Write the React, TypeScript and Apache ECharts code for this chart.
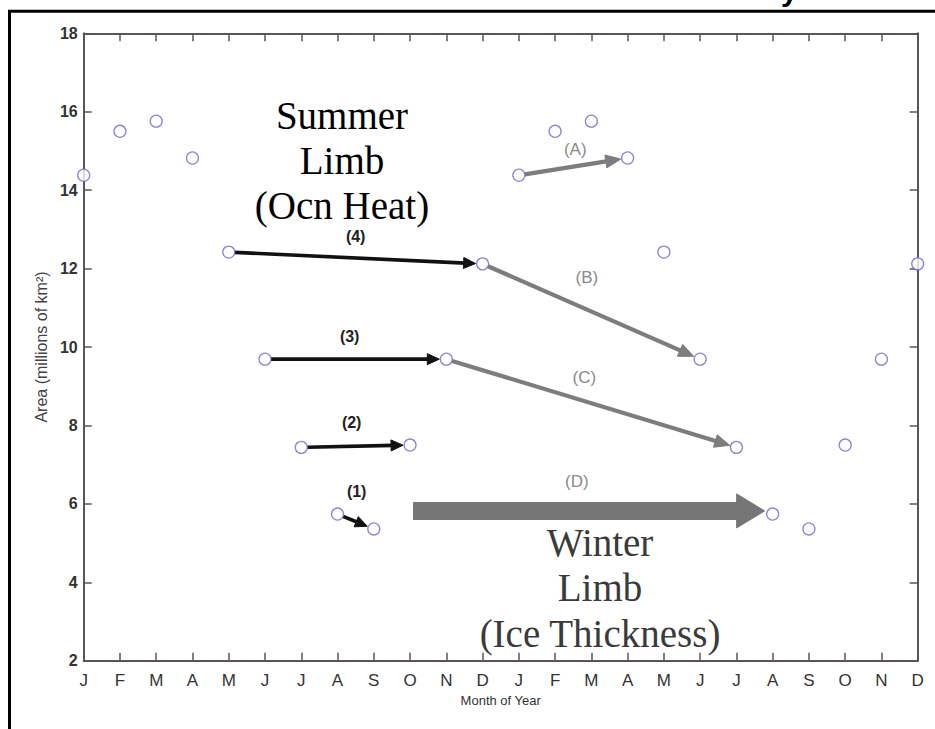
import React, { useEffect, useRef } from "react";
import * as echarts from "echarts";

// ---- data ----
const months = ["J","F","M","A","M","J","J","A","S","O","N","D","J","F","M","A","M","J","J","A","S","O","N","D"];
const iceArea = [14.38,15.5,15.76,14.82,12.42,9.69,7.44,5.74,5.36,7.5,9.69,12.12,14.38,15.5,15.76,14.82,12.42,9.69,7.44,5.74,5.36,7.5,9.69,12.12];
const yMin = 2;
const yMax = 18;
const yStep = 2;

// arrows: start month index -> end month index
const arrowLabels = ["(1)","(2)","(3)","(4)","(A)","(B)","(C)","(D)"];
const arrowStart = [7, 6, 5, 4, 12, 11, 10, 9];
const arrowEnd = [8, 9, 10, 11, 15, 17, 18, 19];
const arrowKind = ["summer","summer","summer","summer","winter","winter","winter","winterLimb"];
const winterLimbLevel = 5.82; // level of the broad (D) arrow

const summerLines = ["Summer", "Limb", "(Ocn Heat)"];
const winterLines = ["Winter", "Limb", "(Ice Thickness)"];

// ---- styles / layout (not data) ----
const kindStyle: Record<string, any> = {
  summer: { color: "#111111", width: 3.6, headLen: 12, headHalf: 5.5, trimStart: 6, trimEnd: 7, labelColor: "#222", labelWeight: "bold", labelSize: 16 },
  winter: { color: "#7d7d7d", width: 4.2, headLen: 15, headHalf: 6.5, trimStart: 6, trimEnd: 7, labelColor: "#8a8a8a", labelWeight: "normal", labelSize: 17 },
  winterLimb: { color: "#767676", width: 18, headLen: 28, headHalf: 17, trimStart: 3, trimEnd: 8, labelColor: "#8a8a8a", labelWeight: "normal", labelSize: 17 },
};
const labelOffset: Record<string, [number, number]> = {
  "(1)": [1, -29.5],
  "(2)": [-4, -24],
  "(3)": [-6, -23],
  "(4)": [0, -21],
  "(A)": [2, -17],
  "(B)": [-4.5, -34.5],
  "(C)": [-7, -25.5],
  "(D)": [-14.5, -29],
};
const summerLayout = { x: 342, y0: 115.5, step: 45 };
const winterLayout = { x: 600, y0: 542, step: 45.5 };

const axisColor = "#5b5556";
const sans = "Liberation Sans, Arial, sans-serif";
const serif = "Liberation Serif, Times New Roman, serif";

export default function App() {
  const ref = useRef<HTMLDivElement>(null);

  useEffect(() => {
    if (!ref.current) return;
    const chart = echarts.init(ref.current, null, { renderer: "svg" });

    const scatterData = iceArea.map((v, i) => [i, v]);
    const arrowData = arrowLabels.map((lab, k) => {
      const s = arrowStart[k];
      const e = arrowEnd[k];
      const y1 = arrowKind[k] === "winterLimb" ? winterLimbLevel : iceArea[s];
      const y2 = arrowKind[k] === "winterLimb" ? winterLimbLevel : iceArea[e];
      return [s, y1, e, y2];
    });

    const renderArrow = (params: any, api: any) => {
      const k = params.dataIndex;
      const st = kindStyle[arrowKind[k]];
      const p1 = api.coord([api.value(0), api.value(1)]);
      const p2 = api.coord([api.value(2), api.value(3)]);
      const dx = p2[0] - p1[0];
      const dy = p2[1] - p1[1];
      const len = Math.sqrt(dx * dx + dy * dy);
      const ux = dx / len;
      const uy = dy / len;
      const nx = -uy;
      const ny = ux;
      const sx = p1[0] + ux * st.trimStart;
      const sy = p1[1] + uy * st.trimStart;
      const tx = p2[0] - ux * st.trimEnd;
      const ty = p2[1] - uy * st.trimEnd;
      const bx = tx - ux * st.headLen;
      const by = ty - uy * st.headLen;
      const mx = (p1[0] + p2[0]) / 2;
      const my = (p1[1] + p2[1]) / 2;
      const off = labelOffset[arrowLabels[k]] || [0, -20];
      return {
        type: "group",
        children: [
          {
            type: "line",
            shape: { x1: sx, y1: sy, x2: bx + ux * 2, y2: by + uy * 2 },
            style: { stroke: st.color, lineWidth: st.width, lineCap: "butt" },
          },
          {
            type: "polygon",
            shape: {
              points: [
                [tx, ty],
                [bx + nx * st.headHalf, by + ny * st.headHalf],
                [bx - nx * st.headHalf, by - ny * st.headHalf],
              ],
            },
            style: { fill: st.color, stroke: st.color, lineWidth: 1, lineJoin: "round" },
          },
          {
            type: "text",
            style: {
              text: arrowLabels[k],
              x: mx + off[0],
              y: my + off[1],
              align: "center",
              verticalAlign: "middle",
              fill: st.labelColor,
              fontSize: st.labelSize,
              fontWeight: st.labelWeight,
              fontFamily: sans,
            },
          },
        ],
      };
    };

    const baseX = {
      type: "value",
      min: 0,
      max: months.length - 1,
      interval: 1,
    };
    const baseY = {
      type: "value",
      min: yMin,
      max: yMax,
      interval: yStep,
    };
    const tick = { show: true, inside: true, length: 8, lineStyle: { color: axisColor, width: 1.5 } };
    const line = { show: true, onZero: false, lineStyle: { color: axisColor, width: 2 } };

    const bigText = (lines: string[], lay: any, fill: string) =>
      lines.map((t, i) => ({
        type: "text",
        x: lay.x,
        y: lay.y0 + i * lay.step,
        z: 50,
        style: {
          text: t,
          fill,
          fontSize: 39,
          lineHeight: 39,
          fontFamily: serif,
          align: "center",
          verticalAlign: "middle",
        },
      }));

    chart.setOption({
      animation: false,
      backgroundColor: "#ffffff",
      grid: {
        left: 83.7,
        right: 17.3,
        top: 33.3,
        bottom: 68.3,
        containLabel: false,
        outerBoundsMode: "none",
      },
      xAxis: [
        {
          ...baseX,
          position: "bottom",
          name: "Month of Year",
          nameLocation: "middle",
          nameGap: 31,
          nameTextStyle: { color: "#333", fontSize: 13, fontFamily: sans },
          axisLine: line,
          axisTick: tick,
          splitLine: { show: false },
          axisLabel: {
            show: true,
            margin: 11,
            color: "#333",
            fontSize: 17,
            fontFamily: sans,
            formatter: (v: number) => months[Math.round(v)] ?? "",
          },
        },
        {
          ...baseX,
          position: "top",
          axisLine: line,
          axisTick: tick,
          splitLine: { show: false },
          axisLabel: { show: false },
        },
      ],
      yAxis: [
        {
          ...baseY,
          position: "left",
          name: "Area (millions of km²)",
          nameLocation: "middle",
          nameGap: 31,
          nameRotate: 90,
          nameTextStyle: { color: "#444", fontSize: 16, fontFamily: sans },
          axisLine: line,
          axisTick: tick,
          splitLine: { show: false },
          axisLabel: {
            show: true,
            margin: 6,
            color: "#333",
            fontSize: 16,
            fontWeight: "bold",
            fontFamily: sans,
          },
        },
        {
          ...baseY,
          position: "right",
          axisLine: line,
          axisTick: tick,
          splitLine: { show: false },
          axisLabel: { show: false },
        },
      ],
      series: [
        {
          type: "custom",
          name: "transitions",
          xAxisIndex: 0,
          yAxisIndex: 0,
          clip: false,
          z: 3,
          encode: { x: [0, 2], y: [1, 3] },
          renderItem: renderArrow,
          data: arrowData,
        },
        {
          type: "scatter",
          name: "Area",
          xAxisIndex: 0,
          yAxisIndex: 0,
          symbol: "circle",
          symbolSize: 12,
          z: 5,
          itemStyle: { color: "#ffffff", borderColor: "#6f66cc", borderWidth: 1.3 },
          data: scatterData,
        },
      ],
      graphic: [
        {
          type: "rect",
          shape: { x: 9.5, y: 11.3, width: 1200, height: 1200 },
          style: { fill: "none", stroke: "#000000", lineWidth: 3 },
          z: 100,
          silent: true,
        },
        {
          type: "text",
          x: 781,
          y: 5,
          style: {
            text: "y",
            fill: "#000",
            fontSize: 30,
            fontWeight: "bold",
            fontFamily: sans,
            verticalAlign: "bottom",
          },
          z: 100,
        },
        ...bigText(summerLines, summerLayout, "#000000"),
        ...bigText(winterLines, winterLayout, "#3a3a3a"),
      ],
    });

    return () => {
      chart.dispose();
    };
  }, []);

  return (
    <div
      ref={ref}
      style={{ position: "absolute", left: 0, top: 0, width: 935, height: 729, background: "#fff" }}
    />
  );
}
